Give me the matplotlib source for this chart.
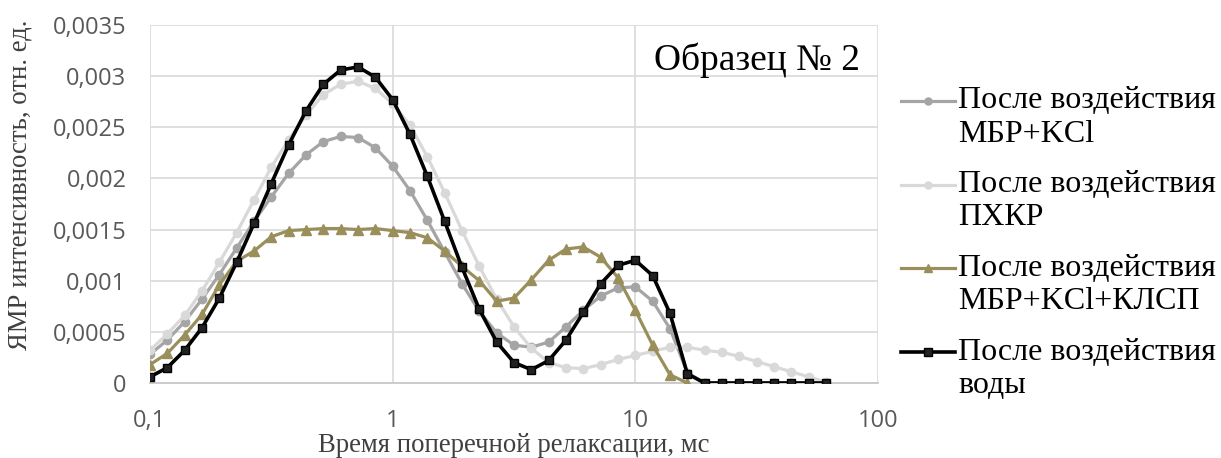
import numpy as np
import matplotlib.pyplot as plt
from matplotlib.lines import Line2D

# relaxation time grid, ms (14 points per decade)
t2 = [0.1, 0.1179, 0.139, 0.1638, 0.1931, 0.2276, 0.2683, 0.3162, 0.3728, 0.4394,
      0.518, 0.6105, 0.7197, 0.8483, 1.0, 1.179, 1.39, 1.638, 1.931, 2.276,
      2.683, 3.162, 3.728, 4.394, 5.18, 6.105, 7.197, 8.483, 10.0, 11.79,
      13.9, 16.38, 19.31, 22.76, 26.83, 31.62, 37.28, 43.94, 51.8, 61.05]

mbr_kcl = [0.00028, 0.00042, 0.0006, 0.00082, 0.00106, 0.00132, 0.00158, 0.00182, 0.00205, 0.00223,
           0.00236, 0.00241, 0.0024, 0.0023, 0.00212, 0.00188, 0.00159, 0.00128, 0.00097, 0.0007,
           0.00049, 0.00037, 0.00035, 0.0004, 0.00055, 0.00071, 0.00085, 0.00093, 0.00094, 0.0008,
           0.00053, 0.0001, 0, 0, 0, 0, 0, 0, 0, 0]

pxkr = [0.00032, 0.00048, 0.00066, 0.0009, 0.00118, 0.00147, 0.00179, 0.00211, 0.00238, 0.00262,
        0.00282, 0.00292, 0.00295, 0.00288, 0.00273, 0.00252, 0.00221, 0.00186, 0.00149, 0.00114,
        0.00082, 0.00055, 0.00034, 0.0002, 0.00015, 0.00014, 0.00018, 0.00023, 0.00027, 0.00031,
        0.00035, 0.00035, 0.00032, 0.0003, 0.00026, 0.00021, 0.00016, 0.00011, 0.00006, 0.00001]

mbr_kcl_klsp = [0.00018, 0.00029, 0.00047, 0.00067, 0.00096, 0.00119, 0.00129, 0.00143, 0.00149, 0.0015,
                0.00151, 0.00151, 0.0015, 0.00151, 0.00149, 0.00147, 0.00142, 0.00129, 0.00114, 0.001,
                0.0008, 0.00083, 0.00101, 0.0012, 0.00131, 0.00133, 0.00123, 0.00103, 0.00071, 0.00037,
                0.00008, 0.0]

water = [0.00006, 0.00015, 0.00032, 0.00054, 0.00083, 0.00118, 0.00156, 0.00195, 0.00233, 0.00266,
         0.00292, 0.00306, 0.00309, 0.00299, 0.00277, 0.00243, 0.00202, 0.00158, 0.00113, 0.00072,
         0.0004, 0.0002, 0.00013, 0.00022, 0.00042, 0.00069, 0.00097, 0.00115, 0.0012, 0.00105,
         0.00068, 0.00009, 0, 0, 0, 0, 0, 0, 0, 0]

y_ticks = [0, 0.0005, 0.001, 0.0015, 0.002, 0.0025, 0.003, 0.0035]
y_labels = ['0', '0,0005', '0,001', '0,0015', '0,002', '0,0025', '0,003', '0,0035']
x_ticks = [0.1, 1, 10, 100]
x_labels = ['0,1', '1', '10', '100']

legend_labels = [('После воздействия', 'МБР+KCl'),
                 ('После воздействия', 'ПХКР'),
                 ('После воздействия', 'МБР+KCl+КЛСП'),
                 ('После воздействия', 'воды')]

W, H = 1221, 458
fig = plt.figure(figsize=(W / 100, H / 100), dpi=100)
ax = fig.add_axes([150 / W, 75 / H, 728 / W, 358 / H])

styles = [
    dict(color='#A5A5A5', lw=2.3, marker='o', ms=6, mfc='#A5A5A5', mec='#A5A5A5'),
    dict(color='#D9D9D9', lw=2.3, marker='o', ms=6, mfc='#D9D9D9', mec='#D9D9D9'),
    dict(color='#9A8F5B', lw=2.3, marker='^', ms=6.5, mfc='#9A8F5B', mec='#9A8F5B'),
    dict(color='#000000', lw=2.6, marker='s', ms=6, mfc='#222222', mec='#000000', mew=1),
]
series = [mbr_kcl, pxkr, mbr_kcl_klsp, water]
for vals, st in zip(series, styles):
    ax.plot(t2[:len(vals)], vals, zorder=3, **st)

ax.set_xscale('log')
ax.set_xlim(0.1, 100)
ax.set_ylim(0, 0.0035)
ax.set_xticks(x_ticks)
ax.set_xticklabels(x_labels)
ax.set_yticks(y_ticks)
ax.set_yticklabels(y_labels)
ax.xaxis.set_minor_locator(plt.NullLocator())
ax.grid(True, color='#D9D9D9', lw=1.2, zorder=0)
for s in ['top', 'right', 'left']:
    ax.spines[s].set_visible(False)
ax.spines['bottom'].set_color('#C8C8C8')
ax.spines['bottom'].set_linewidth(1.3)
ax.tick_params(axis='both', length=0, labelsize=17, labelcolor='#595959')
ax.tick_params(axis='x', pad=19)
ax.tick_params(axis='y', pad=17)
for lab in ax.get_xticklabels() + ax.get_yticklabels():
    lab.set_fontfamily('Open Sans')

serif = 'Liberation Serif'
fig.text(654 / W, 1 - 69.5 / H, 'Образец № 2', fontsize=27, family=serif,
         va='baseline', ha='left', color='#000000')
fig.text(514 / W, 1 - 446 / H, 'Время поперечной релаксации, мс', fontsize=19.3,
         family=serif, ha='center', va='center', color='#404040')
fig.text(20 / W, 1 - 185 / H, 'ЯМР интенсивность, отн. ед.', fontsize=19.3,
         family=serif, ha='center', va='center', rotation=90, color='#404040')

# legend drawn by hand so the handle sits on the first line of each label
for i, ((l1, l2), st) in enumerate(zip(legend_labels, styles)):
    yc = 101 + i * 83.7
    h = Line2D([901 / W, 928 / W, 955 / W], [1 - yc / H] * 3, transform=fig.transFigure,
               markevery=[1], **{**st, 'ms': st['ms'] * 0.85})
    fig.add_artist(h)
    fig.text(958 / W, 1 - yc / H, l1, fontsize=23, family=serif, va='center', ha='left')
    fig.text(958 / W, 1 - (yc + 33) / H, l2, fontsize=23, family=serif, va='center', ha='left')

fig.savefig('out.png', dpi=100)
